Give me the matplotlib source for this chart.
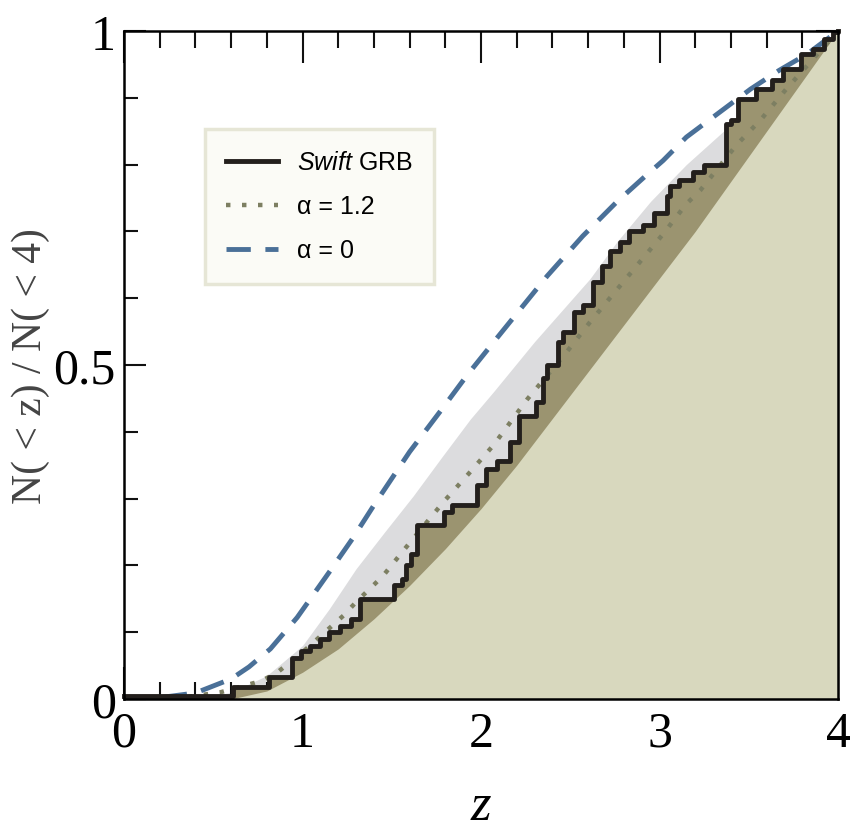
import matplotlib
matplotlib.use('Agg')
import matplotlib.pyplot as plt
from matplotlib.ticker import MultipleLocator, FixedLocator, FixedFormatter

# Swift GRB cumulative redshift distribution (step corners)
step_z = [0.0, 0.61, 0.81, 0.94, 0.99, 1.04, 1.10, 1.15, 1.21, 1.27, 1.32, 1.51, 1.56, 1.58, 1.61,
          1.64, 1.79, 1.84, 1.98, 2.03, 2.09, 2.16, 2.21, 2.31, 2.35, 2.37, 2.43, 2.46, 2.52, 2.57,
          2.63, 2.68, 2.72, 2.78, 2.83, 2.91, 2.97, 3.04, 3.06, 3.11, 3.19, 3.25, 3.37, 3.40, 3.44,
          3.54, 3.63, 3.69, 3.79, 3.86, 3.92, 3.97, 4.0]
step_v = [0.005, 0.018, 0.033, 0.062, 0.072, 0.08, 0.09, 0.10, 0.11, 0.12, 0.15, 0.17, 0.18, 0.20, 0.217,
          0.26, 0.28, 0.29, 0.32, 0.345, 0.356, 0.385, 0.424, 0.445, 0.48, 0.50, 0.534, 0.55, 0.58, 0.59,
          0.624, 0.648, 0.67, 0.684, 0.70, 0.71, 0.728, 0.753, 0.768, 0.777, 0.789, 0.80, 0.86, 0.867, 0.898,
          0.913, 0.927, 0.943, 0.965, 0.973, 0.988, 0.998, 1.0]

# alpha = 1.2 model
dot_z = [0, 0.3, 0.54, 0.77, 0.86, 1.0, 1.23, 1.30, 1.45, 1.58, 1.79, 1.93, 2.07, 2.26, 2.47,
         2.61, 2.74, 2.88, 3.02, 3.15, 3.23, 3.43, 3.57, 3.71, 4.0]
dot_v = [0, 0.001, 0.01, 0.027, 0.04, 0.07, 0.125, 0.145, 0.184, 0.227, 0.295, 0.337, 0.38, 0.449, 0.516,
         0.564, 0.606, 0.651, 0.696, 0.741, 0.762, 0.829, 0.868, 0.913, 1.0]

# alpha = 0 model
dash_z = [0, 0.2, 0.4, 0.6, 0.7, 0.82, 0.97, 1.15, 1.28, 1.40, 1.60, 1.77, 1.92, 2.07, 2.37, 2.57,
          2.76, 2.93, 3.02, 3.15, 3.36, 3.51, 3.67, 3.83, 4.0]
dash_v = [0, 0.002, 0.009, 0.03, 0.048, 0.075, 0.122, 0.19, 0.24, 0.29, 0.37, 0.43, 0.484, 0.534, 0.633, 0.693,
          0.744, 0.785, 0.806, 0.841, 0.883, 0.913, 0.941, 0.966, 1.0]

# light grey band upper edge
band_z = [0, 0.4, 0.6, 0.8, 1.0, 1.15, 1.30, 1.46, 1.62, 1.78, 1.94, 2.07, 2.3, 2.61, 2.76,
          2.95, 3.15, 3.4, 3.7, 4.0]
band_v = [0, 0, 0.01, 0.035, 0.08, 0.135, 0.195, 0.25, 0.304, 0.362, 0.419, 0.46, 0.535, 0.629, 0.684,
          0.745, 0.80, 0.86, 0.93, 1.0]

# lower envelope (beige area)
low_z = [0.6, 0.8, 1.0, 1.2, 1.4, 1.6, 1.8, 2.0, 2.2, 2.4, 2.6, 2.8, 3.0, 3.2, 3.4, 3.6, 3.8, 4.0]
low_v = [0, 0.012, 0.04, 0.075, 0.12, 0.17, 0.225, 0.285, 0.35, 0.42, 0.49, 0.56, 0.63, 0.70, 0.775,
         0.85, 0.925, 1.0]

xticks = [0, 1, 2, 3, 4]
yticks = [0, 0.5, 1]
ytick_labels = ['0', '0.5', '1']

serif = ['Liberation Serif', 'DejaVu Serif']
sans = ['Liberation Sans', 'DejaVu Sans']

plt.rcParams['mathtext.fontset'] = 'custom'
plt.rcParams['mathtext.rm'] = 'Liberation Sans'
plt.rcParams['mathtext.it'] = 'Liberation Sans:italic'

fig = plt.figure(figsize=(8.5, 8.37), dpi=100)
ax = fig.add_axes([0.1459, 0.1637, 0.8400, 0.7981])

ax.fill_between(band_z, 0, band_v, color='#dcdcde', lw=0, zorder=1)
ax.fill_between(step_z, 0, step_v, step='post', color='#9b9470', lw=0, zorder=2)
ax.fill_between(low_z, 0, low_v, color='#d8d8be', lw=0, zorder=3)

ax.plot(dot_z, dot_v, color='#7d7f62', lw=3.2, linestyle=(0, (1, 2.6)),
        zorder=4, label='α = 1.2')
ax.plot(dash_z, dash_v, color='#4a7098', lw=3.5, linestyle=(0, (5, 3)),
        zorder=5, label='α = 0')
ax.plot(step_z, step_v, color='#231f1c', lw=3.5, drawstyle='steps-post',
        zorder=6, clip_on=False, label=r'$\it{Swift}$ GRB')

ax.set_xlim(0, 4)
ax.set_ylim(0, 1)

ax.xaxis.set_major_locator(FixedLocator(xticks))
ax.xaxis.set_minor_locator(MultipleLocator(0.2))
ax.yaxis.set_major_locator(FixedLocator(yticks))
ax.yaxis.set_major_formatter(FixedFormatter(ytick_labels))
ax.yaxis.set_minor_locator(MultipleLocator(0.1))

ax.tick_params(which='both', direction='in', top=True, right=True, width=1.5, color='#111111')
ax.tick_params(axis='x', which='major', length=23, pad=8)
ax.tick_params(axis='x', which='minor', length=12)
ax.tick_params(axis='y', which='major', length=16, pad=6)
ax.tick_params(axis='y', which='minor', length=10)
for lab in ax.get_xticklabels() + ax.get_yticklabels():
    lab.set_fontfamily(serif)
    lab.set_fontsize(36)
for sp in ax.spines.values():
    sp.set_linewidth(1.8)
    sp.set_zorder(10)

ax.set_xlabel('z', fontfamily=serif, fontstyle='italic', fontsize=38, labelpad=18)
ax.set_ylabel('N( < z) / N( < 4)', fontfamily=serif, fontsize=30, color='#444444')
ax.yaxis.set_label_coords(-0.104, 0.5)

handles, labels = ax.get_legend_handles_labels()
order = [2, 0, 1]
leg = ax.legend([handles[i] for i in order], [labels[i] for i in order],
                loc='upper left', bbox_to_anchor=(0.113, 0.853), frameon=True, fancybox=False,
                prop={'family': sans, 'size': 18},
                handlelength=2.1, handletextpad=0.75, labelspacing=0.8, borderpad=0.85,
                borderaxespad=0)
leg.get_frame().set_facecolor('#fbfbf6')
leg.get_frame().set_edgecolor('#e6e6d6')
leg.get_frame().set_linewidth(2.5)
leg.get_frame().set_alpha(1)

plt.savefig('out.png', dpi=100)
